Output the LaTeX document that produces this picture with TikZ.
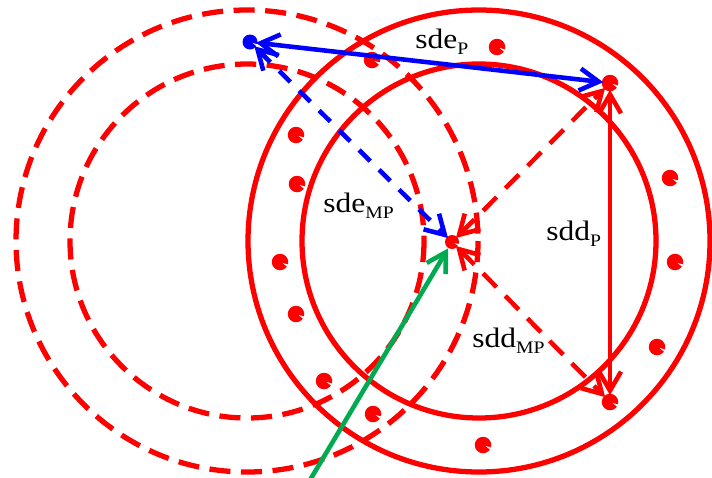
\documentclass[tikz,border=0pt]{standalone}
\usepackage{fontspec}
\setmainfont{Liberation Serif}
\usetikzlibrary{arrows.meta}
\definecolor{sgreen}{RGB}{0,170,80}
\newcommand{\lsub}[1]{\raisebox{-3.6pt}{\fontsize{10}{11}\selectfont #1}}
\begin{document}
\begin{tikzpicture}[x=0.02cm, y=-0.02cm,
  ring/.style={draw=red, line width=3pt},
  ghost/.style={draw=red, line width=3pt, dash pattern=on 12pt off 6pt},
  dot/.style={circle, fill=red, inner sep=0pt, minimum size=0.33cm},
  bdot/.style={circle, fill=blue, inner sep=0pt, minimum size=0.3cm},
  mdot/.style={circle, fill=red, inner sep=0pt, minimum size=0.28cm},
  notch/.style={fill=white},
  arr/.style={{Straight Barb[length=0.38cm,width=0.44cm]}-{Straight Barb[length=0.38cm,width=0.44cm]}, line width=2.6pt, shorten <=-1pt, shorten >=-1pt},
  lbl/.style={font=\fontsize{16}{18}\selectfont, inner sep=0pt, anchor=base west, xscale=1.12}
]
\useasboundingbox (0,0) rectangle (712,477);
\coordinate (sc) at (479,241);
\coordinate (dc) at (247,241);
\draw[ghost] (dc) circle (231);
\draw[ghost] (dc) circle (177);
\draw[ring] (sc) circle (231);
\draw[ring] (sc) circle (177);
\foreach \px/\py [count=\i] in {372/60, 497/47, 296/135, 297/184, 280/262, 296/314, 324/381, 373/414, 483/445, 657/347, 675/262, 670/178}
  \node[dot] (d\i) at (\px,\py) {};
\node[dot] (p1) at (610,83) {};
\node[dot] (p2) at (610,402) {};
\node[mdot] (mp) at (452,242) {};
\node[bdot] (bp) at (250,42) {};
\foreach \n in {d1,d2,d3,d4,d5,d6,d7,d8,d9,d10,d11,d12,p1,p2,mp,bp}
  \fill[notch] (\n.center) ++(2.5,1) -- +(15:6) -- +(38:6) -- cycle;
\coordinate (gs) at (310,480);
\draw[arr, blue] (bp) -- (p1);
\draw[arr, blue, dash pattern=on 9pt off 7pt] (bp) -- (mp);
\draw[arr, red] (p1) -- (p2);
\draw[arr, red, dash pattern=on 11pt off 7pt] (mp) -- (p1);
\draw[arr, red, dash pattern=on 11pt off 7pt] (mp) -- (p2);
\draw[sgreen, line width=2.6pt, -{Straight Barb[length=0.38cm,width=0.44cm]}] (gs) -- (mp);
\node[lbl] (lsdep) at (415,48) {sde\lsub{P}};
\node[lbl] (lsdemp) at (323,212) {sde\lsub{MP}};
\node[lbl] (lsddp) at (546,240) {sdd\lsub{P}};
\node[lbl] (lsddmp) at (472,347) {sdd\lsub{MP}};
\end{tikzpicture}
\end{document}
